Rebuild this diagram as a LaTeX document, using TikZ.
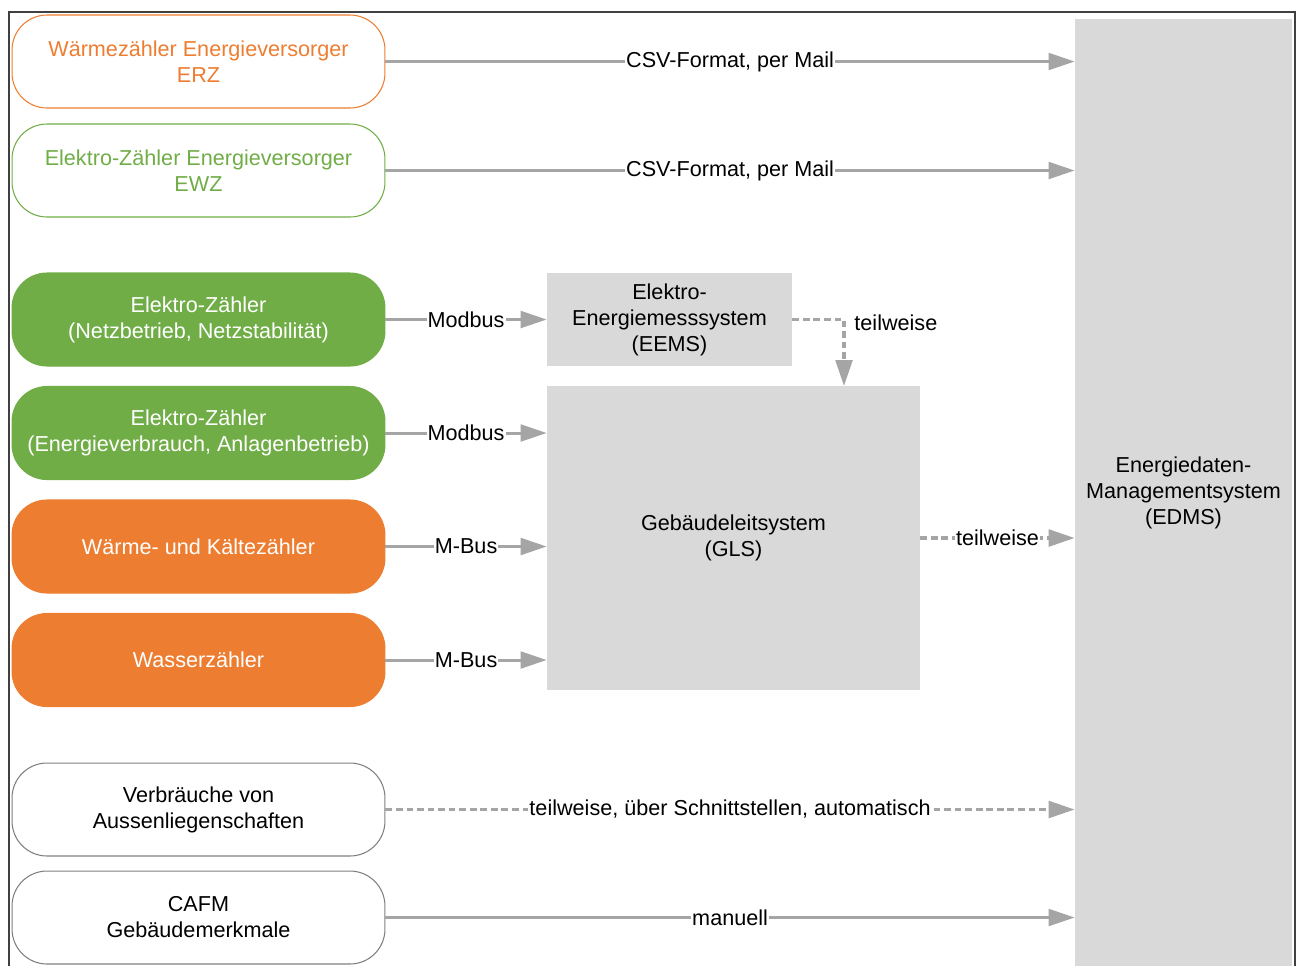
\documentclass[tikz,border=0pt]{standalone}
\usepackage{fontspec}
\setmainfont{Liberation Sans}
\usetikzlibrary{arrows.meta}
\definecolor{zorange}{HTML}{ED7D31}
\definecolor{zgreen}{HTML}{70AD47}
\definecolor{sysgray}{HTML}{D9D9D9}
\definecolor{arrgray}{HTML}{A5A5A5}
\definecolor{rimgray}{HTML}{7F7F7F}
\definecolor{framegray}{HTML}{404040}
\tikzset{
  meter/.style    = {rounded corners=0.7cm,minimum width=7.46cm,minimum height=1.86cm,align=center,line width=0.6pt},
  sysbox/.style   = {fill=sysgray,align=center,inner sep=0pt},
  flow/.style     = {-{Triangle[length=14.8pt,width=9.5pt]},arrgray,line width=1.7pt},
  partflow/.style = {flow,line width=1.9pt,dash pattern=on 3.8pt off 2.2pt},
  lbl/.style      = {fill=white,text=black,inner sep=0.6pt}
}

\begin{document}
\begin{tikzpicture}[x=0.02cm,y=-0.02cm,font=\fontsize{12.3}{14.8}\selectfont]
  \useasboundingbox (0,0) rectangle (1298,965);
  \clip (0,0) rectangle (1298,965);
  \draw[framegray,line width=0.8pt] (9,12) rectangle (1295,1000);
  % sources
  \node[meter,draw=zorange,text=zorange] (erz) at (198.5,61.5)  {Wärmezähler Energieversorger\\ERZ};
  \node[meter,draw=zgreen,text=zgreen]   (ewz) at (198.5,170.5) {Elektro-Zähler Energieversorger\\EWZ};
  \node[meter,draw=zgreen,fill=zgreen,text=white]   (netz)   at (198.5,319.5) {Elektro-Zähler\\(Netzbetrieb, Netzstabilität)};
  \node[meter,draw=zgreen,fill=zgreen,text=white]   (verb)   at (198.5,433)   {Elektro-Zähler\\(Energieverbrauch, Anlagenbetrieb)};
  \node[meter,draw=zorange,fill=zorange,text=white] (waerme) at (198.5,546.5) {Wärme- und Kältezähler};
  \node[meter,draw=zorange,fill=zorange,text=white] (wasser) at (198.5,660)   {Wasserzähler};
  \node[meter,draw=rimgray] (aussen) at (198.5,809.5) {Verbräuche von\\Aussenliegenschaften};
  \node[meter,draw=rimgray] (cafm)   at (198.5,917.5) {CAFM\\Gebäudemerkmale};
  % systems
  \node[sysbox,minimum width=4.9cm,minimum height=1.86cm]  (eems) at (669.5,319.5) {Elektro-\\Energiemesssystem\\(EEMS)};
  \node[sysbox,minimum width=7.46cm,minimum height=6.08cm] (gls)  at (733.5,538)   {Gebäudeleitsystem\\(GLS)};
  \node[sysbox,minimum width=4.34cm,minimum height=18.96cm] (edms) at (1183.5,493) {Energiedaten-\\Managementsystem\\(EDMS)};
  \coordinate (drop) at (844,386);
  % flows
  \draw[flow] (erz.east) -- (erz.east -| edms.west) node[midway,lbl] {CSV-Format, per Mail};
  \draw[flow] (ewz.east) -- (ewz.east -| edms.west) node[midway,lbl] {CSV-Format, per Mail};
  \draw[flow] (netz.east)   -- (eems.west) node[midway,lbl] {Modbus};
  \draw[flow] (verb.east)   -- (verb.east -| gls.west)   node[midway,lbl] {Modbus};
  \draw[flow] (waerme.east) -- (waerme.east -| gls.west) node[midway,lbl] {M-Bus};
  \draw[flow] (wasser.east) -- (wasser.east -| gls.west) node[midway,lbl] {M-Bus};
  \draw[partflow] (eems.east) -| (drop) node[pos=0.5,anchor=west,inner sep=0pt,xshift=5pt,yshift=-2pt,text=black] {teilweise};
  \draw[partflow] (gls.east |- 0,538) -- (edms.west |- 0,538) node[midway,lbl] {teilweise};
  \draw[partflow] (aussen.east) -- (aussen.east -| edms.west) node[midway,lbl] {teilweise, über Schnittstellen, automatisch};
  \draw[flow] (cafm.east) -- (cafm.east -| edms.west) node[midway,lbl] {manuell};
\end{tikzpicture}
\end{document}
